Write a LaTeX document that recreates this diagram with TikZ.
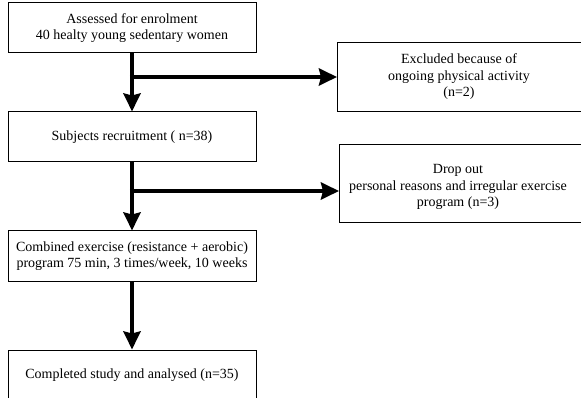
\documentclass[tikz,border=0pt]{standalone}
\usepackage{fontspec}
\setmainfont{Liberation Serif}
\usetikzlibrary{arrows.meta,calc}
\begin{document}
\begin{tikzpicture}[x=1pt,y=-1pt,
  txt/.style={inner sep=0pt,align=center,font=\fontsize{14}{16.5}\selectfont},
  box/.style={txt,draw,line width=1pt},
  frame/.style={draw,line width=1pt},
  flow/.style={line width=4.5pt,-{Stealth[length=18pt,width=17pt,inset=2pt]}}]
\useasboundingbox (0,0) rectangle (581,398);
\clip (0,0) rectangle (581,398);
\node[box,minimum width=248pt,minimum height=50pt] (a) at (132,28) {Assessed for enrolment\\40 healty young sedentary women};
\node[box,minimum width=248pt,minimum height=50pt] (b) at (132,137) {Subjects recruitment ( n=38)};
\node[box,minimum width=248pt,minimum height=50pt] (c) at (132,256) {Combined exercise (resistance + aerobic)\\program 75 min, 3 times/week, 10 weeks};
\node[box,minimum width=248pt,minimum height=50pt] (d) at (132,375) {Completed study and analysed (n=35)};
\draw[frame] (337,43) rectangle (595,112);
\node[txt] (e) at (459,77) {Excluded because of\\ongoing physical activity\\(n=2)};
\draw[frame] (339,145) rectangle (595,223);
\node[txt] (f) at (458,187) {Drop out\\personal reasons and irregular exercise\\program (n=3)};
\coordinate (eW) at (337,77);
\coordinate (fW) at (339,191);
\coordinate (b1) at (129.75,77);
\coordinate (b2) at (129.75,191);
\draw[flow] (a) -- (b);
\draw[flow] (b) -- (c);
\draw[flow] (c) -- (d);
\draw[flow] (b1) -- (eW);
\draw[flow] (b2) -- (fW);
\end{tikzpicture}
\end{document}
